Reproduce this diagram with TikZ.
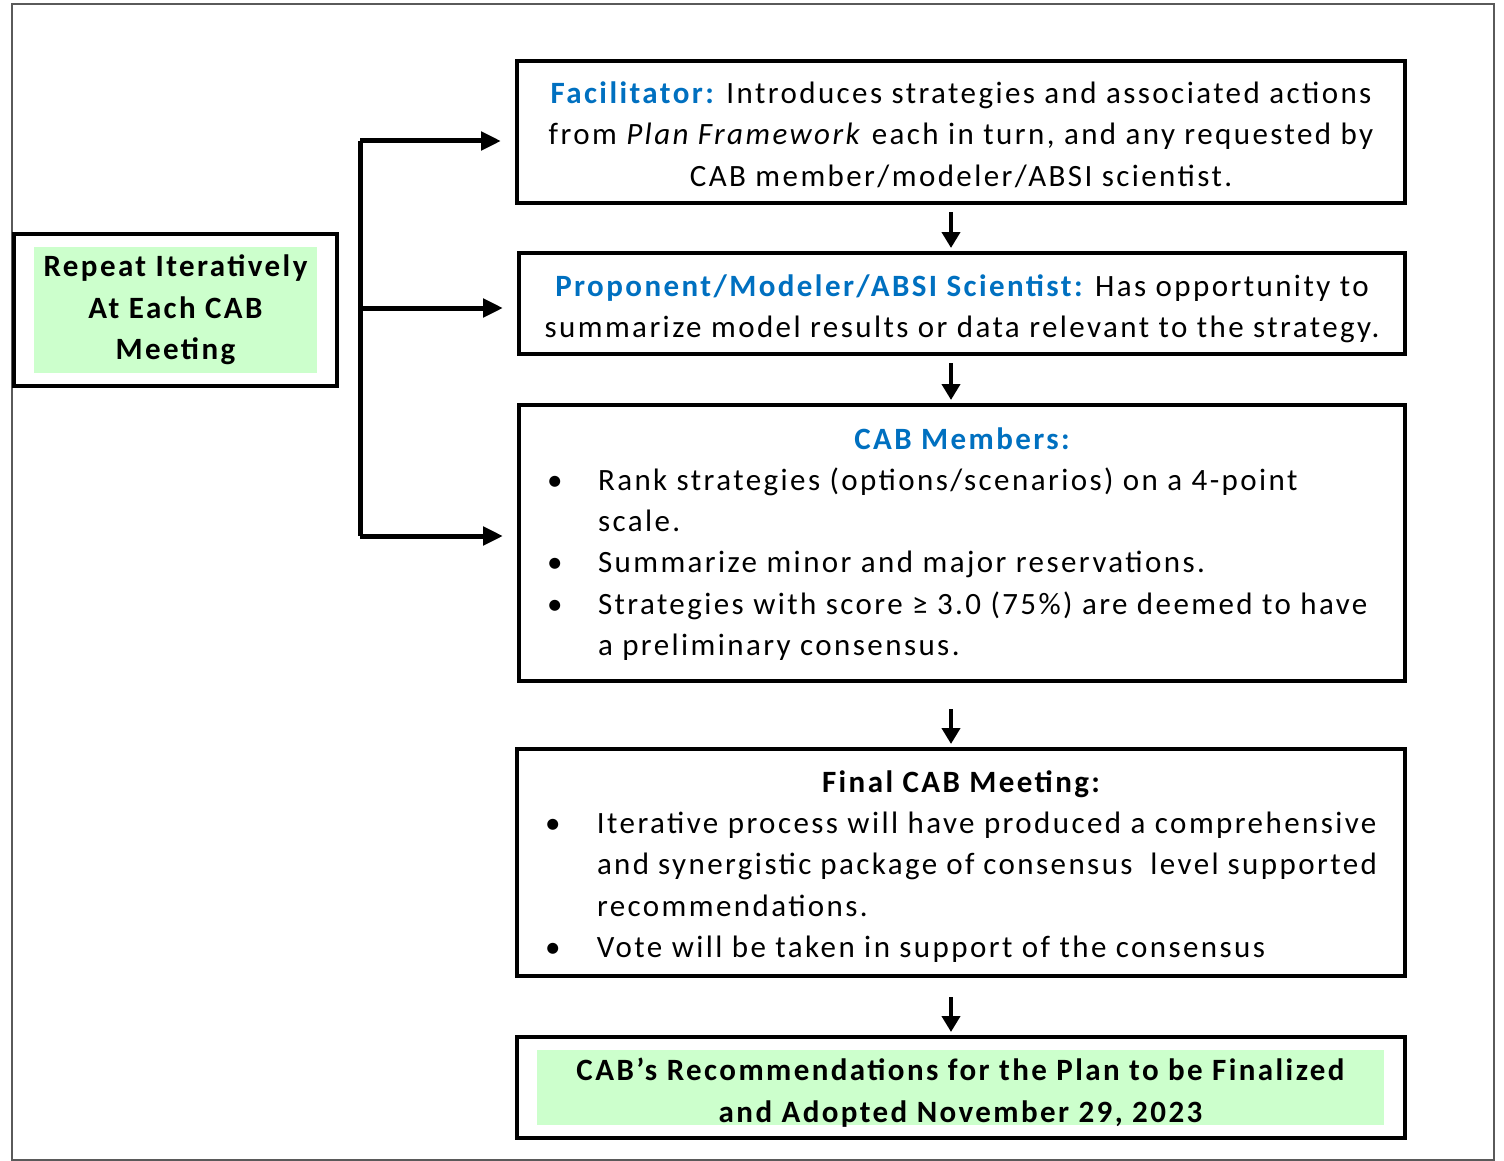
\documentclass[tikz,border=0pt]{standalone}
\usepackage{fontspec}
\setmainfont{Carlito}[LetterSpace=7.8]
\usetikzlibrary{arrows.meta,fit}
\definecolor{cabblue}{HTML}{0070C0}
\definecolor{cabgreen}{HTML}{CCFFCC}
\definecolor{framegray}{HTML}{5A5A5A}

\tikzset{
	stepbox/.style={draw, line width=2pt, rectangle, inner sep=0pt},
	steptext/.style={align=center, inner sep=0pt},
	greenfill/.style={fill=cabgreen, rectangle, inner sep=0pt},
	downarrow/.style={line width=2pt, -{Triangle[length=8pt,width=9pt]}},
	sidearrow/.style={line width=2.5pt, -{Triangle[length=10pt,width=9pt]}}
}

\newcommand{\hl}[1]{\textcolor{cabblue}{\bfseries #1}}

\begin{document}
\begin{tikzpicture}[x=0.5pt,y=-0.5pt,
	every node/.style={font=\fontsize{15.5}{20.65}\selectfont}]
	\useasboundingbox (0,0) rectangle (1504,1161);
	\draw[framegray, line width=0.75pt] (12,4) rectangle (1494,1160);

	% main column boxes
	\node (facil) [stepbox, minimum width=444pt, minimum height=71pt] at (961,132) {};
	\node (prop) [stepbox, minimum width=443pt, minimum height=50.5pt] at (962,303.5) {};
	\node (members) [stepbox, minimum width=443pt, minimum height=138pt] at (962,543) {};
	\node (final) [stepbox, minimum width=444pt, minimum height=113.5pt] at (961,862.5) {};
	\node (recs) [stepbox, minimum width=444pt, minimum height=50.5pt] at (961,1087.5) {};
	\node (recsfill) [greenfill, minimum width=423.5pt, minimum height=37.5pt] at (960.5,1087.5) {};

	% texts
	\node (facil-txt) [steptext] at (961,134.5)
		{\hl{Facilitator:} Introduces strategies and associated actions\\
		 from \textit{Plan Framework} each in turn, and any requested by\\
		 CAB member/modeler/ABSI scientist.};
	\node (prop-txt) [steptext] at (962,308.5)
		{\hl{Proponent/Modeler/ABSI Scientist:} Has opportunity to\\
		 summarize model results or data relevant to the strategy.};
	\node (members-txt) [inner sep=0pt] at (962,544)
		{\begin{tabular}{@{}p{25.5pt}@{}p{389.5pt}@{}}
		 \multicolumn{2}{@{}c@{}}{\hl{CAB Members:}}\\
		 \textbullet & Rank strategies (options/scenarios) on a 4-point\\
		             & scale.\\
		 \textbullet & Summarize minor and major reservations.\\
		 \textbullet & Strategies with score ≥ 3.0 (75\%) are deemed to have\\
		             & a preliminary consensus.
		 \end{tabular}};
	\node (final-txt) [inner sep=0pt] at (961,866.5)
		{\begin{tabular}{@{}p{26pt}@{}p{390pt}@{}}
		 \multicolumn{2}{@{}c@{}}{\bfseries Final CAB Meeting:}\\
		 \textbullet & Iterative process will have produced a comprehensive\\
		             & and synergistic package of consensus\ \ level supported\\
		             & recommendations.\\
		 \textbullet & Vote will be taken in support of the consensus
		 \end{tabular}};
	\node (recs-txt) [steptext, font=\fontsize{15.5}{20.65}\selectfont\bfseries] at (960.5,1092.5)
		{CAB’s Recommendations for the Plan to be Finalized\\
		 and Adopted November 29, 2023};

	% left box
	\node (repeat-txt) [greenfill, steptext, font=\fontsize{15.5}{20.65}\selectfont\bfseries,
		minimum width=141.5pt, minimum height=63pt] at (175.5,310)
		{Repeat Iteratively\\ At Each CAB\\ Meeting};
	\node (repeat) [stepbox, fit=(repeat-txt), inner xsep=10pt, inner ysep=6.5pt] {};

	% bracket
	\coordinate (btop) at (360,141);
	\coordinate (bmid) at (360,308);
	\coordinate (bbot) at (360,536);
	\draw[line width=2.5pt] (btop) -- (bbot);
	\draw[sidearrow, shorten >=7pt] (btop) -- (btop -| facil.west);
	\draw[sidearrow, shorten >=7pt] (bmid) -- (bmid -| prop.west);
	\draw[sidearrow, shorten >=7pt] (bbot) -- (bbot -| members.west);

	% down arrows
	\draw[downarrow, shorten <=3.5pt, shorten >=1.5pt] ([xshift=-5pt]facil.south) -- ([xshift=-5pt]facil.south |- prop.north);
	\draw[downarrow, shorten <=3.5pt, shorten >=1.5pt] ([xshift=-5pt]facil.south |- prop.south) -- ([xshift=-5pt]facil.south |- members.north);
	\draw[downarrow, shorten <=13pt, shorten >=1.5pt] ([xshift=-5pt]facil.south |- members.south) -- ([xshift=-5pt]facil.south |- final.north);
	\draw[downarrow, shorten <=9.5pt, shorten >=1.5pt] ([xshift=-5pt]facil.south |- final.south) -- ([xshift=-5pt]facil.south |- recs.north);
\end{tikzpicture}
\end{document}
